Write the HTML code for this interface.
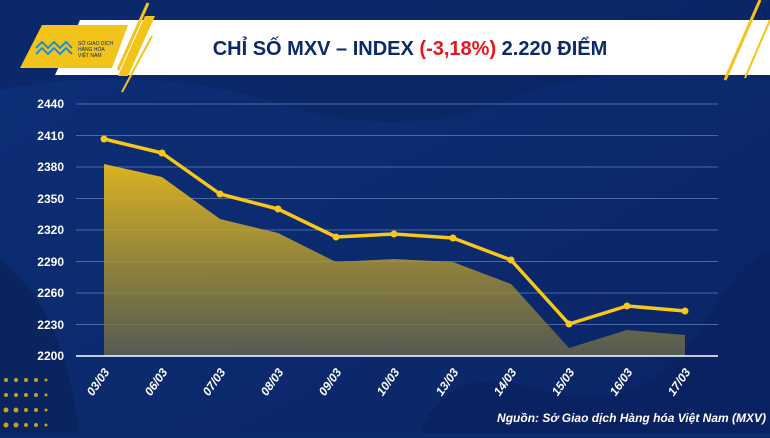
<!DOCTYPE html><html><head><meta charset="utf-8"><style>
body{margin:0;width:770px;height:433px;overflow:hidden;background:#0b2a6b;font-family:"Liberation Sans",sans-serif}
</style></head><body>
<svg width="770" height="433" viewBox="0 0 770 433" xmlns="http://www.w3.org/2000/svg">
<defs>
<linearGradient id="bg" x1="0" y1="0" x2="1" y2="1"><stop offset="0" stop-color="#0d2f78"/><stop offset="1" stop-color="#0a2565"/></linearGradient>
<linearGradient id="ar" x1="0" y1="0" x2="0" y2="1"><stop offset="0" stop-color="#f2c318"/><stop offset="1" stop-color="#6b6a4a" stop-opacity="0.85"/></linearGradient>
</defs>
<rect width="770" height="433" fill="url(#bg)"/>
<path d="M0 90 Q150 60 300 110 Q420 140 520 95 Q620 60 770 80 L770 0 L0 0Z" fill="#0a2462" opacity="0.6"/>
<path d="M420 433 Q450 360 540 390 Q640 420 700 330 Q740 260 770 250 L770 433Z" fill="#0a2260" opacity="0.8"/>
<path d="M0 260 Q60 300 80 433 L0 433Z" fill="#0a2460"/>
<g fill="#f2c318" opacity="0.8">
<circle cx="6" cy="380" r="2"/><circle cx="16" cy="380" r="2"/><circle cx="26" cy="380" r="2"/><circle cx="36" cy="380" r="2"/><circle cx="46" cy="380" r="1.5"/>
<circle cx="6" cy="395" r="2"/><circle cx="16" cy="395" r="2"/><circle cx="26" cy="395" r="2"/><circle cx="36" cy="395" r="2"/><circle cx="46" cy="395" r="1.5"/>
<circle cx="6" cy="410" r="2.5"/><circle cx="16" cy="410" r="2.5"/><circle cx="26" cy="410" r="2"/><circle cx="36" cy="410" r="2"/><circle cx="46" cy="410" r="1.5"/>
<circle cx="6" cy="425" r="2.5"/><circle cx="16" cy="425" r="2.5"/><circle cx="26" cy="425" r="2"/><circle cx="36" cy="425" r="2"/><circle cx="46" cy="425" r="1.5"/>
</g>
<polygon points="80,20 770,20 770,75 55,75" fill="#ffffff"/>
<polygon points="42,25 128,25 112,68 20,68" fill="#f2c318"/>
<line x1="148" y1="3" x2="118" y2="70" stroke="#f2c318" stroke-width="3"/>
<polygon points="145,16 155,16 128,76 118,76" fill="#f2c318"/>
<line x1="152" y1="36" x2="122" y2="92" stroke="#f2c318" stroke-width="2"/>
<line x1="760" y1="0" x2="725" y2="80" stroke="#f2c318" stroke-width="3"/>
<line x1="770" y1="20" x2="745" y2="78" stroke="#f2c318" stroke-width="2"/>
<path d="M36 48 l6 -6 l6 6 l6 -6 l6 6 l6 -6 l6 6 M36 54 l6 -6 l6 6 l6 -6 l6 6 l6 -6 l6 6" stroke="#1e8fd6" stroke-width="2" fill="none"/>
<text x="78" y="45" font-size="5" fill="#0b2a6b">SỞ GIAO DỊCH</text>
<text x="78" y="51" font-size="5" fill="#0b2a6b">HÀNG HÓA</text>
<text x="78" y="57" font-size="5" fill="#0b2a6b">VIỆT NAM</text>
<text x="410" y="55" text-anchor="middle" font-size="20" font-weight="bold" fill="#0b2a6b">CHỈ SỐ MXV – INDEX <tspan fill="#e8161b">(-3,18%)</tspan> 2.220 ĐIỂM</text>
<g stroke="#4b6aa5" stroke-width="1">
<line x1="76" y1="104" x2="718" y2="104"/><line x1="76" y1="135.5" x2="718" y2="135.5"/><line x1="76" y1="167" x2="718" y2="167"/><line x1="76" y1="198.5" x2="718" y2="198.5"/><line x1="76" y1="230" x2="718" y2="230"/><line x1="76" y1="261.5" x2="718" y2="261.5"/><line x1="76" y1="293" x2="718" y2="293"/><line x1="76" y1="324.5" x2="718" y2="324.5"/>
</g>
<g font-size="12" font-weight="bold" fill="#fff" text-anchor="end">
<text x="64" y="108">2440</text><text x="64" y="140">2410</text><text x="64" y="171">2380</text><text x="64" y="203">2350</text><text x="64" y="234">2320</text><text x="64" y="266">2290</text><text x="64" y="297">2260</text><text x="64" y="329">2230</text><text x="64" y="360">2200</text>
</g>
<polygon points="104,356 104,164 162,177 220,219 278,233 336,262 394,259 453,262 511,284 569,348 627,330 685,335 685,356" fill="url(#ar)" opacity="0.9"/>
<line x1="76" y1="356" x2="718" y2="356" stroke="#fff" stroke-width="1.5"/>
<polyline points="104,139 162,153 220,194 278,209 336,237 394,234 453,238 511,260 569,324 627,306 685,311" fill="none" stroke="#f7c81a" stroke-width="3.5" stroke-linejoin="round"/>
<g fill="#f7c81a"><circle cx="104" cy="139" r="3.5"/><circle cx="162" cy="153" r="3.5"/><circle cx="220" cy="194" r="3.5"/><circle cx="278" cy="209" r="3.5"/><circle cx="336" cy="237" r="3.5"/><circle cx="394" cy="234" r="3.5"/><circle cx="453" cy="238" r="3.5"/><circle cx="511" cy="260" r="3.5"/><circle cx="569" cy="324" r="3.5"/><circle cx="627" cy="306" r="3.5"/><circle cx="685" cy="311" r="3.5"/></g>
<g font-size="12" font-weight="bold" font-style="italic" fill="#fff">
<text transform="translate(110,372) rotate(-55)" text-anchor="end">03/03</text>
<text transform="translate(168,372) rotate(-55)" text-anchor="end">06/03</text>
<text transform="translate(226,372) rotate(-55)" text-anchor="end">07/03</text>
<text transform="translate(284,372) rotate(-55)" text-anchor="end">08/03</text>
<text transform="translate(342,372) rotate(-55)" text-anchor="end">09/03</text>
<text transform="translate(400,372) rotate(-55)" text-anchor="end">10/03</text>
<text transform="translate(459,372) rotate(-55)" text-anchor="end">13/03</text>
<text transform="translate(517,372) rotate(-55)" text-anchor="end">14/03</text>
<text transform="translate(575,372) rotate(-55)" text-anchor="end">15/03</text>
<text transform="translate(633,372) rotate(-55)" text-anchor="end">16/03</text>
<text transform="translate(691,372) rotate(-55)" text-anchor="end">17/03</text>
</g>
<text x="766" y="422" text-anchor="end" font-size="12" font-weight="bold" font-style="italic" fill="#fff">Nguồn: Sở Giao dịch Hàng hóa Việt Nam (MXV)</text>
</svg>
</body></html>
